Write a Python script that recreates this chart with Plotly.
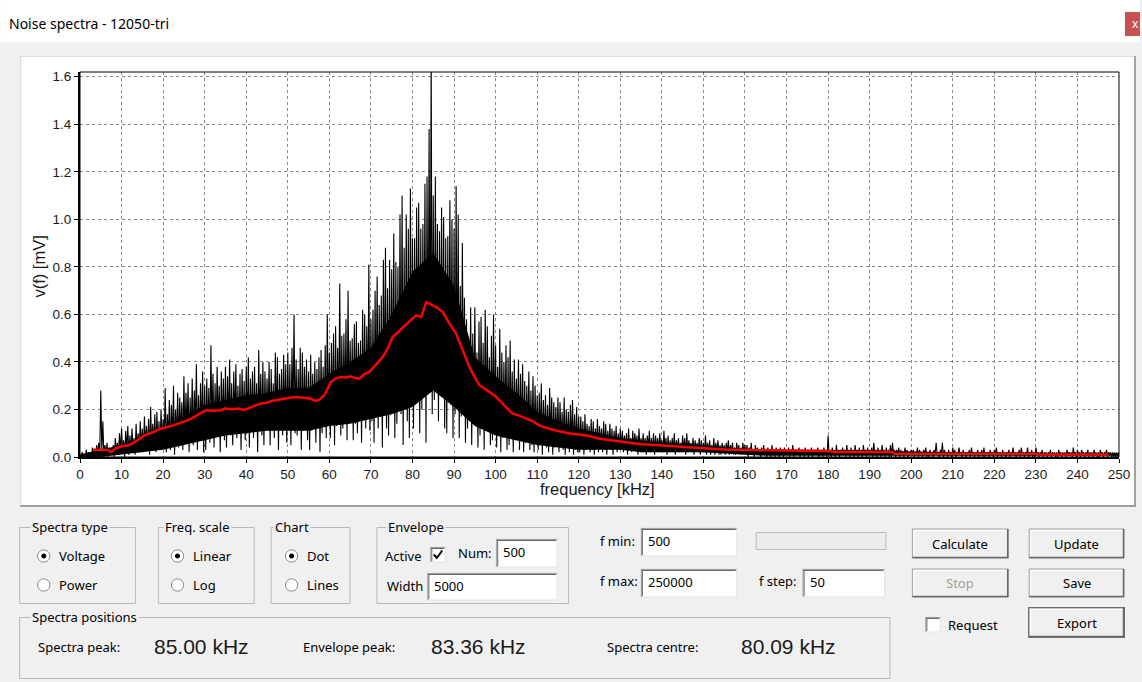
import plotly.graph_objects as go

W, H = 1142, 682
L, R, T, B = 80, 21, 72, 225
PW = W - L - R
PH = H - T - B
BOT = H - B

# ---------------- data ----------------
x_ticks = list(range(0, 251, 10))
y_ticks = [0.0, 0.2, 0.4, 0.6, 0.8, 1.0, 1.2, 1.4, 1.6]
y_tick_text = ["0.0", "0.2", "0.4", "0.6", "0.8", "1.0", "1.2", "1.4", "1.6"]

# spectrum maxima, every 0.5 kHz from 0.5 to 250 kHz
spec_hi = [
    0.02, 0.01, 0.03, 0.02, 0.02, 0.04, 0.03, 0.05, 0.06, 0.28,
    0.15, 0.05, 0.06, 0.04, 0.03, 0.05, 0.08, 0.06, 0.10, 0.12,
    0.07, 0.11, 0.13, 0.09, 0.12, 0.08, 0.14, 0.10, 0.15, 0.12,
    0.17, 0.13, 0.16, 0.21, 0.14, 0.18, 0.19, 0.15, 0.20, 0.16,
    0.29, 0.18, 0.24, 0.22, 0.30, 0.20, 0.27, 0.25, 0.23, 0.34,
    0.27, 0.31, 0.25, 0.33, 0.28, 0.39, 0.26, 0.31, 0.36, 0.30,
    0.33, 0.29, 0.47, 0.35, 0.31, 0.38, 0.30, 0.36, 0.33, 0.38,
    0.34, 0.41, 0.31, 0.36, 0.39, 0.30, 0.35, 0.37, 0.32, 0.38,
    0.42, 0.33, 0.36, 0.38, 0.31, 0.45, 0.35, 0.40, 0.36, 0.33,
    0.40, 0.37, 0.31, 0.44, 0.42, 0.35, 0.37, 0.43, 0.39, 0.44,
    0.39, 0.46, 0.60, 0.41, 0.37, 0.46, 0.44, 0.38, 0.41, 0.36,
    0.43, 0.35, 0.40, 0.37, 0.42, 0.45, 0.38, 0.47, 0.60, 0.44,
    0.48, 0.52, 0.55, 0.46, 0.73, 0.51, 0.52, 0.58, 0.70, 0.49,
    0.50, 0.56, 0.57, 0.48, 0.49, 0.62, 0.60, 0.55, 0.81, 0.58,
    0.62, 0.70, 0.76, 0.64, 0.68, 0.83, 0.88, 0.71, 0.83, 0.79,
    0.94, 0.82, 0.80, 1.02, 1.10, 0.88, 1.02, 0.96, 1.13, 0.92,
    0.92, 1.05, 1.07, 0.96, 0.98, 1.15, 1.18, 1.38, 1.70, 1.10,
    1.18, 0.98, 0.95, 1.05, 1.01, 0.92, 0.93, 1.08, 1.00, 0.96,
    1.14, 1.02, 0.72, 0.90, 0.67, 0.58, 0.45, 0.63, 0.52, 0.63,
    0.44, 0.57, 0.59, 0.48, 0.62, 0.55, 0.42, 0.51, 0.60, 0.47,
    0.38, 0.54, 0.44, 0.40, 0.47, 0.42, 0.49, 0.36, 0.41, 0.33,
    0.41, 0.35, 0.39, 0.32, 0.30, 0.36, 0.28, 0.34, 0.30, 0.26,
    0.27, 0.31, 0.24, 0.26, 0.22, 0.29, 0.25, 0.23, 0.21, 0.25,
    0.23, 0.19, 0.25, 0.20, 0.19, 0.22, 0.24, 0.18, 0.21, 0.17,
    0.17, 0.15, 0.18, 0.14, 0.13, 0.16, 0.15, 0.12, 0.16, 0.13,
    0.12, 0.15, 0.14, 0.11, 0.14, 0.12, 0.11, 0.13, 0.10, 0.12,
    0.11, 0.09, 0.10, 0.12, 0.08, 0.11, 0.10, 0.09, 0.12, 0.08,
    0.10, 0.08, 0.09, 0.11, 0.08, 0.10, 0.09, 0.08, 0.10, 0.07,
    0.11, 0.08, 0.09, 0.07, 0.08, 0.10, 0.07, 0.08, 0.06, 0.09,
    0.08, 0.10, 0.07, 0.06, 0.08, 0.07, 0.06, 0.08, 0.07, 0.06,
    0.09, 0.06, 0.07, 0.05, 0.08, 0.06, 0.07, 0.05, 0.06, 0.05,
    0.06, 0.07, 0.05, 0.06, 0.04, 0.06, 0.05, 0.04, 0.06, 0.05,
    0.05, 0.04, 0.06, 0.03, 0.05, 0.04, 0.03, 0.04, 0.05, 0.03,
    0.04, 0.03, 0.05, 0.03, 0.04, 0.03, 0.04, 0.03, 0.04, 0.03,
    0.04, 0.03, 0.05, 0.03, 0.03, 0.04, 0.03, 0.03, 0.04, 0.03,
    0.03, 0.04, 0.03, 0.03, 0.04, 0.03, 0.03, 0.04, 0.03, 0.09,
    0.03, 0.04, 0.03, 0.05, 0.03, 0.03, 0.04, 0.03, 0.05, 0.03,
    0.04, 0.03, 0.05, 0.03, 0.04, 0.03, 0.05, 0.03, 0.04, 0.03,
    0.04, 0.06, 0.03, 0.04, 0.03, 0.05, 0.03, 0.04, 0.03, 0.05,
    0.06, 0.03, 0.03, 0.04, 0.03, 0.02, 0.04, 0.03, 0.02, 0.03,
    0.03, 0.02, 0.04, 0.03, 0.02, 0.03, 0.04, 0.02, 0.03, 0.02,
    0.03, 0.06, 0.02, 0.03, 0.06, 0.03, 0.02, 0.03, 0.02, 0.04,
    0.03, 0.02, 0.04, 0.02, 0.03, 0.02, 0.02, 0.03, 0.04, 0.02,
    0.02, 0.03, 0.02, 0.03, 0.04, 0.02, 0.02, 0.03, 0.02, 0.03,
    0.04, 0.02, 0.02, 0.03, 0.02, 0.02, 0.03, 0.02, 0.04, 0.02,
    0.02, 0.03, 0.04, 0.02, 0.02, 0.04, 0.02, 0.03, 0.02, 0.04,
    0.02, 0.02, 0.03, 0.02, 0.02, 0.02, 0.03, 0.02, 0.02, 0.02,
    0.03, 0.02, 0.02, 0.02, 0.03, 0.02, 0.02, 0.04, 0.02, 0.03,
    0.02, 0.03, 0.02, 0.02, 0.03, 0.02, 0.02, 0.03, 0.02, 0.02,
    0.03, 0.02, 0.02, 0.03, 0.02, 0.02, 0.02, 0.02, 0.02, 0.02,
]
# spectrum minima, every 0.5 kHz from 0.25 to 249.75 kHz
spec_lo = [
    0.00, 0.01, 0.00, 0.00, 0.01, 0.00, 0.01, 0.00, 0.01, 0.00,
    0.02, 0.00, 0.01, 0.00, 0.02, 0.01, 0.00, 0.02, 0.01, 0.02,
    0.02, 0.00, 0.03, 0.01, 0.02, 0.04, 0.01, 0.03, 0.02, 0.04,
    0.02, 0.05, 0.03, 0.01, 0.04, 0.06, 0.02, 0.05, 0.03, 0.06,
    0.05, 0.02, 0.08, 0.03, 0.06, 0.01, 0.07, 0.04, 0.09, 0.03,
    0.06, 0.10, 0.02, 0.08, 0.05, 0.11, 0.03, 0.07, 0.09, 0.02,
    0.03, 0.10, 0.06, 0.12, 0.04, 0.09, 0.13, 0.02, 0.11, 0.07,
    0.04, 0.12, 0.09, 0.05, 0.13, 0.08, 0.11, 0.03, 0.12, 0.07,
    0.10, 0.04, 0.13, 0.08, 0.12, 0.02, 0.14, 0.09, 0.05, 0.12,
    0.14, 0.05, 0.11, 0.08, 0.13, 0.03, 0.12, 0.09, 0.14, 0.06,
    0.12, 0.05, 0.14, 0.10, 0.09, 0.13, 0.03, 0.11, 0.14, 0.07,
    0.03, 0.11, 0.13, 0.06, 0.12, 0.02, 0.10, 0.14, 0.08, 0.15,
    0.08, 0.16, 0.05, 0.13, 0.17, 0.09, 0.12, 0.18, 0.07, 0.15,
    0.18, 0.07, 0.14, 0.10, 0.19, 0.06, 0.16, 0.12, 0.19, 0.11,
    0.15, 0.06, 0.20, 0.12, 0.17, 0.04, 0.21, 0.12, 0.09, 0.18,
    0.22, 0.08, 0.14, 0.20, 0.18, 0.05, 0.23, 0.15, 0.08, 0.25,
    0.12, 0.26, 0.28, 0.10, 0.20, 0.31, 0.06, 0.27, 0.32, 0.18,
    0.24, 0.30, 0.15, 0.28, 0.30, 0.12, 0.10, 0.25, 0.22, 0.08,
    0.18, 0.22, 0.08, 0.17, 0.25, 0.06, 0.12, 0.19, 0.05, 0.14,
    0.16, 0.04, 0.09, 0.13, 0.03, 0.11, 0.13, 0.05, 0.07, 0.10,
    0.04, 0.10, 0.02, 0.08, 0.11, 0.03, 0.05, 0.09, 0.02, 0.07,
    0.11, 0.03, 0.07, 0.02, 0.06, 0.09, 0.03, 0.05, 0.02, 0.06,
    0.03, 0.06, 0.01, 0.05, 0.04, 0.02, 0.06, 0.01, 0.04, 0.05,
    0.02, 0.07, 0.03, 0.01, 0.05, 0.02, 0.04, 0.01, 0.03, 0.02,
    0.02, 0.04, 0.01, 0.03, 0.05, 0.02, 0.03, 0.01, 0.04, 0.02,
    0.05, 0.02, 0.03, 0.01, 0.04, 0.03, 0.01, 0.04, 0.02, 0.03,
    0.03, 0.02, 0.04, 0.01, 0.03, 0.02, 0.03, 0.04, 0.01, 0.03,
    0.02, 0.03, 0.01, 0.04, 0.02, 0.03, 0.01, 0.03, 0.02, 0.04,
    0.02, 0.03, 0.01, 0.02, 0.03, 0.02, 0.01, 0.03, 0.02, 0.02,
    0.03, 0.01, 0.02, 0.03, 0.02, 0.01, 0.03, 0.02, 0.01, 0.02,
    0.02, 0.01, 0.02, 0.01, 0.02, 0.01, 0.02, 0.01, 0.01, 0.02,
    0.01, 0.02, 0.01, 0.02, 0.01, 0.01, 0.02, 0.01, 0.01, 0.02,
    0.01, 0.00, 0.01, 0.01, 0.00, 0.01, 0.01, 0.00, 0.01, 0.01,
    0.00, 0.01, 0.00, 0.01, 0.00, 0.01, 0.00, 0.01, 0.00, 0.01,
    0.01, 0.00, 0.01, 0.00, 0.01, 0.01, 0.00, 0.01, 0.00, 0.01,
    0.00, 0.01, 0.00, 0.01, 0.01, 0.00, 0.01, 0.00, 0.01, 0.00,
    0.01, 0.00, 0.01, 0.00, 0.01, 0.00, 0.01, 0.01, 0.00, 0.01,
    0.00, 0.01, 0.00, 0.01, 0.00, 0.01, 0.00, 0.01, 0.00, 0.01,
    0.01, 0.00, 0.01, 0.00, 0.01, 0.00, 0.01, 0.00, 0.01, 0.00,
    0.00, 0.01, 0.00, 0.01, 0.00, 0.01, 0.00, 0.01, 0.00, 0.01,
    0.01, 0.00, 0.01, 0.00, 0.01, 0.00, 0.01, 0.00, 0.00, 0.01,
    0.00, 0.01, 0.01, 0.00, 0.01, 0.00, 0.01, 0.00, 0.01, 0.00,
    0.01, 0.00, 0.01, 0.01, 0.00, 0.01, 0.00, 0.01, 0.00, 0.01,
    0.00, 0.01, 0.00, 0.01, 0.00, 0.00, 0.01, 0.00, 0.01, 0.00,
    0.01, 0.00, 0.01, 0.00, 0.01, 0.00, 0.01, 0.00, 0.01, 0.01,
    0.00, 0.01, 0.00, 0.01, 0.00, 0.01, 0.00, 0.01, 0.00, 0.00,
    0.01, 0.00, 0.01, 0.00, 0.01, 0.00, 0.01, 0.00, 0.01, 0.00,
    0.00, 0.01, 0.00, 0.01, 0.00, 0.01, 0.01, 0.00, 0.01, 0.00,
    0.01, 0.00, 0.01, 0.00, 0.01, 0.00, 0.01, 0.00, 0.01, 0.00,
    0.00, 0.01, 0.00, 0.01, 0.00, 0.01, 0.00, 0.00, 0.00, 0.00,
]
# dense (solid) part of the dot cloud, every 5 kHz
body_f = list(range(0, 251, 5))
body_top = [
    0.01, 0.03, 0.05, 0.08, 0.12, 0.17, 0.22, 0.24, 0.26, 0.27,
    0.29, 0.29, 0.35, 0.40, 0.46, 0.60, 0.78, 0.86, 0.72, 0.42,
    0.34, 0.27, 0.19, 0.15, 0.12, 0.10, 0.08, 0.07, 0.06, 0.055,
    0.05, 0.04, 0.035, 0.03, 0.03, 0.03, 0.03, 0.028, 0.028, 0.025,
    0.022, 0.022, 0.02, 0.02, 0.02, 0.02, 0.018, 0.016, 0.016, 0.015,
    0.015,
]
body_bot = [
    0.0, 0.0, 0.01, 0.02, 0.03, 0.05, 0.07, 0.09, 0.10, 0.11,
    0.11, 0.11, 0.13, 0.14, 0.16, 0.18, 0.21, 0.28, 0.21, 0.13,
    0.09, 0.07, 0.05, 0.04, 0.03, 0.03, 0.03, 0.02, 0.02, 0.02,
    0.02, 0.015, 0.01, 0.005, 0.005, 0.005, 0.005, 0.005, 0.005, 0.005,
    0.005, 0.005, 0.005, 0.005, 0.005, 0.005, 0.005, 0.005, 0.005, 0.005,
    0.005,
]
# red envelope
env_f = [3.1, 5, 6.7, 7.5, 8.5, 9.9, 11.5, 13.1, 14.5, 15.5, 17.5, 19.5, 21.5, 23.5,
         25.5, 27.5, 29, 30.4, 32, 33.9, 35, 36.5, 38, 39.5, 41, 42, 43.5, 45, 46,
         47.5, 49, 51.6, 54, 55.5, 56.8, 57.5, 58.8, 60.4, 61.5, 62.8, 64, 65, 66,
         67.2, 68.5, 69.6, 71, 72.8, 74, 75.2, 76.5, 78.5, 79.5, 80.9, 82.1, 83.3,
         84.5, 85.7, 87.3, 88.9, 90.5, 92.1, 93.7, 95, 96.1, 98.5, 100, 101.7, 103,
         104, 105.5, 107.3, 109, 110.5, 113, 115.3, 117.5, 120, 122.5, 125, 128,
         131.3, 135, 139.3, 143, 147.3, 151, 155.3, 159, 163.3, 170, 179.3, 182.5,
         195.5, 196, 230, 230.5, 247.5]
env_v = [0.031, 0.032, 0.030, 0.021, 0.035, 0.045, 0.048, 0.062, 0.078, 0.091, 0.104,
         0.120, 0.128, 0.140, 0.152, 0.168, 0.185, 0.197, 0.195, 0.197, 0.205, 0.200,
         0.204, 0.198, 0.210, 0.215, 0.225, 0.228, 0.236, 0.241, 0.245, 0.252, 0.249,
         0.245, 0.236, 0.240, 0.260, 0.316, 0.330, 0.337, 0.335, 0.340, 0.333, 0.330,
         0.350, 0.358, 0.385, 0.421, 0.455, 0.505, 0.525, 0.561, 0.575, 0.596, 0.589,
         0.652, 0.640, 0.631, 0.610, 0.561, 0.519, 0.449, 0.379, 0.335, 0.302, 0.274,
         0.255, 0.225, 0.200, 0.183, 0.175, 0.162, 0.150, 0.133, 0.118, 0.108, 0.100,
         0.095, 0.088, 0.077, 0.070, 0.060, 0.054, 0.049, 0.044, 0.039, 0.036, 0.032,
         0.030, 0.028, 0.027, 0.025, 0.021, 0.021, 0.014, 0.014, 0.010, 0.010]

# ---------------- traces ----------------
zig_x, zig_y = [], []
for k in range(len(spec_hi)):
    zig_x += [0.25 + 0.5 * k, 0.5 + 0.5 * k]
    zig_y += [spec_lo[k], spec_hi[k]]

fig = go.Figure()
fig.add_trace(go.Scatter(x=body_f, y=body_bot, mode="lines", line=dict(width=0, color="black"),
                         showlegend=False, hoverinfo="skip"))
fig.add_trace(go.Scatter(x=body_f, y=body_top, mode="lines", line=dict(width=0, color="black"),
                         fill="tonexty", fillcolor="black", showlegend=False, hoverinfo="skip"))
fig.add_trace(go.Scatter(x=zig_x, y=zig_y, mode="lines", line=dict(width=1.1, color="black"),
                         showlegend=False, hoverinfo="skip"))
fig.add_trace(go.Scatter(x=env_f, y=env_v, mode="lines", line=dict(width=2.5, color="#ff0000"),
                         showlegend=False, hoverinfo="skip"))

# ---------------- dialog decoration helpers ----------------
shapes = []
annots = []
UI = "Noto Sans, Segoe UI, sans-serif"
AR = "Liberation Sans, Arial, sans-serif"
BG = "#f0f0f0"


def px(x):
    return (x - L) / PW


def py(y):
    return (BOT - y) / PH


def rect(x0, y0, x1, y1, fill=None, line=None, lw=1, layer="below"):
    shapes.append(dict(type="rect", xref="paper", yref="paper",
                       x0=px(x0), x1=px(x1), y0=py(y1), y1=py(y0),
                       fillcolor=fill if fill else "rgba(0,0,0,0)",
                       line=dict(color=line if line else "rgba(0,0,0,0)", width=lw if line else 0),
                       layer=layer))


def seg(x0, y0, x1, y1, color, lw=1, layer="below"):
    shapes.append(dict(type="line", xref="paper", yref="paper",
                       x0=px(x0), x1=px(x1), y0=py(y0), y1=py(y1),
                       line=dict(color=color, width=lw), layer=layer))


def circ(cx, cy, r, fill, line, lw=1):
    shapes.append(dict(type="circle", xref="paper", yref="paper",
                       x0=px(cx - r), x1=px(cx + r), y0=py(cy + r), y1=py(cy - r),
                       fillcolor=fill, line=dict(color=line, width=lw), layer="below"))


def text(x, y, s, size=13, color="#000000", family=UI, anchor="left", bg=None, pad=0):
    a = dict(xref="paper", yref="paper", x=px(x), y=py(y), text=s, showarrow=False,
             xanchor=anchor, yanchor="middle", borderpad=pad,
             font=dict(family=family, size=size, color=color))
    if bg:
        a["bgcolor"] = bg
    annots.append(a)


def group(x0, y0, x1, y1, label, lx):
    rect(x0 + 0.5, y0 + 0.5, x1 - 0.5, y1 - 0.5, line="#b8b8b8")
    text(lx, y0, label, bg=BG, pad=1)


def radio(cx, cy, on, label):
    circ(cx, cy, 6.2, "white", "#8a8a8a")
    if on:
        circ(cx, cy, 2.1, "black", "black")
    text(cx + 14.5, cy, label)


def sunken(x0, y0, x1, y1):
    rect(x0, y0, x1, y1, fill="white", line="#e3e3e3")
    seg(x0, y0 + 0.5, x1, y0 + 0.5, "#a0a0a0")
    seg(x0 + 0.5, y0, x0 + 0.5, y1, "#a0a0a0")
    seg(x0 + 1, y0 + 1.5, x1 - 1, y0 + 1.5, "#696969")
    seg(x0 + 1.5, y0 + 1, x0 + 1.5, y1 - 1, "#696969")


def textbox(x0, y0, x1, y1, s):
    sunken(x0, y0, x1, y1)
    text(x0 + 6, (y0 + y1) / 2 - 1, s)


def button(x0, y0, x1, y1, label, color="#000000", default=False):
    if default:
        rect(x0 - 0.5, y0 - 0.5, x1 + 0.5, y1 + 0.5, line="#3c3c3c")
    rect(x0, y0, x1, y1, fill="#f0f0f0", line="#a0a0a0")
    seg(x0 + 1, y0 + 1.5, x1 - 1, y0 + 1.5, "#ffffff")
    seg(x0 + 1.5, y0 + 1, x0 + 1.5, y1 - 1, "#ffffff")
    seg(x0, y1 - 0.5, x1, y1 - 0.5, "#696969", 1.5)
    seg(x1 - 0.5, y0, x1 - 0.5, y1, "#696969", 1.5)
    text((x0 + x1) / 2, (y0 + y1) / 2, label, color=color, anchor="center")


def checkbox(x0, y0, x1, y1, checked):
    sunken(x0, y0, x1, y1)
    if checked:
        shapes.append(dict(type="path", xref="paper", yref="paper",
                           path="M %f,%f L %f,%f L %f,%f" % (px(x0 + 3.5), py(y0 + 7.5),
                                                            px(x0 + 6.5), py(y0 + 11),
                                                            px(x1 - 3), py(y0 + 3.5)),
                           line=dict(color="black", width=2), layer="below"))


# title bar
rect(0, 0, W, 42, fill="#ffffff")
text(8, 24, "Noise spectra - 12050-tri", size=14)
rect(1127, 12, 1142, 36, fill="#c75050")
text(1138, 23, "x", size=12, color="#ffffff", anchor="center")

# chart panel
rect(20, 56, 1138, 507, fill="#ffffff")
seg(20, 56.5, 1138, 56.5, "#dcdcdc")
seg(20.5, 56, 20.5, 507, "#dcdcdc")
seg(1137, 56, 1137, 507, "#a0a0a0", 2)
seg(20, 506, 1138, 506, "#a0a0a0", 2)

# plot frame (top / right thin border)
shapes.append(dict(type="rect", xref="paper", yref="paper", x0=0, x1=1, y0=0, y1=1,
                   line=dict(color="black", width=1), layer="above"))

# axis titles
text(598, 489, "frequency [kHz]", size=16.5, family=AR, anchor="center", color="#1a1a1a")
annots.append(dict(xref="paper", yref="paper", x=px(38.5), y=py(267), text="v(f) [mV]",
                   showarrow=False, textangle=-90, xanchor="center", yanchor="middle",
                   font=dict(family=AR, size=16.5, color="#1a1a1a")))

# group boxes
group(19, 527, 136, 604, "Spectra type", 30)
radio(43.7, 556, True, "Voltage")
radio(43.7, 585, False, "Power")

group(158, 527, 255, 604, "Freq. scale", 163)
radio(177.7, 556, True, "Linear")
radio(177.7, 585, False, "Log")

group(271, 527, 351, 604, "Chart", 273.5)
radio(292, 556, True, "Dot")
radio(292, 585, False, "Lines")

group(377, 527, 570, 604, "Envelope", 387)
text(385, 556, "Active")
checkbox(431, 547, 446, 562, True)
text(458, 553, "Num:")
textbox(497, 539, 558, 567, "500")
text(387, 586, "Width")
textbox(428, 573, 558, 600, "5000")

text(600, 541, "f min:")
textbox(642, 528, 738, 556, "500")
text(600, 581, "f max:")
textbox(642, 569, 738, 597, "250000")

rect(757.5, 532.5, 887.5, 549.5, fill="#ececec", line="#bcbcbc")
text(759, 581, "f step:")
textbox(804, 569, 886, 597, "50")

button(914, 529, 1010, 558, "Calculate")
button(1031, 529, 1126, 558, "Update")
button(914, 569, 1010, 597, "Stop", color="#a0a0a0")
button(1031, 569, 1126, 597, "Save")
button(1031, 608, 1126, 637, "Export", default=True)
checkbox(927, 617, 942, 632, False)
text(949, 625, "Request")

group(19, 617, 892, 679, "Spectra positions", 30)
text(37, 647, "Spectra peak:")
text(153, 646, "85.00 kHz", size=21, family=AR, color="#1a1a1a")
text(302, 647, "Envelope peak:")
text(431, 646, "83.36 kHz", size=21, family=AR, color="#1a1a1a")
text(607, 647, "Spectra centre:")
text(741, 646, "80.09 kHz", size=21, family=AR, color="#1a1a1a")

axis_common = dict(showline=True, linewidth=2, linecolor="black", ticks="outside", ticklen=4,
                   tickwidth=1, tickcolor="black", showgrid=True, gridcolor="#8a8a8a",
                   griddash="3px,3px", gridwidth=1, zeroline=False,
                   tickfont=dict(family=AR, size=13.5, color="#1a1a1a"))

fig.update_layout(
    width=W, height=H, autosize=False,
    margin=dict(l=L, r=R, t=T, b=B, pad=0),
    paper_bgcolor=BG, plot_bgcolor="rgba(0,0,0,0)",
    showlegend=False, hovermode=False,
    xaxis=dict(range=[0, 250], tickmode="array", tickvals=x_ticks,
               ticktext=[str(v) for v in x_ticks], **axis_common),
    yaxis=dict(range=[0, 1.62], tickmode="array", tickvals=y_ticks, ticktext=y_tick_text,
               **axis_common),
    shapes=shapes, annotations=annots,
)

fig.write_html("out.html", config={"displayModeBar": False})
